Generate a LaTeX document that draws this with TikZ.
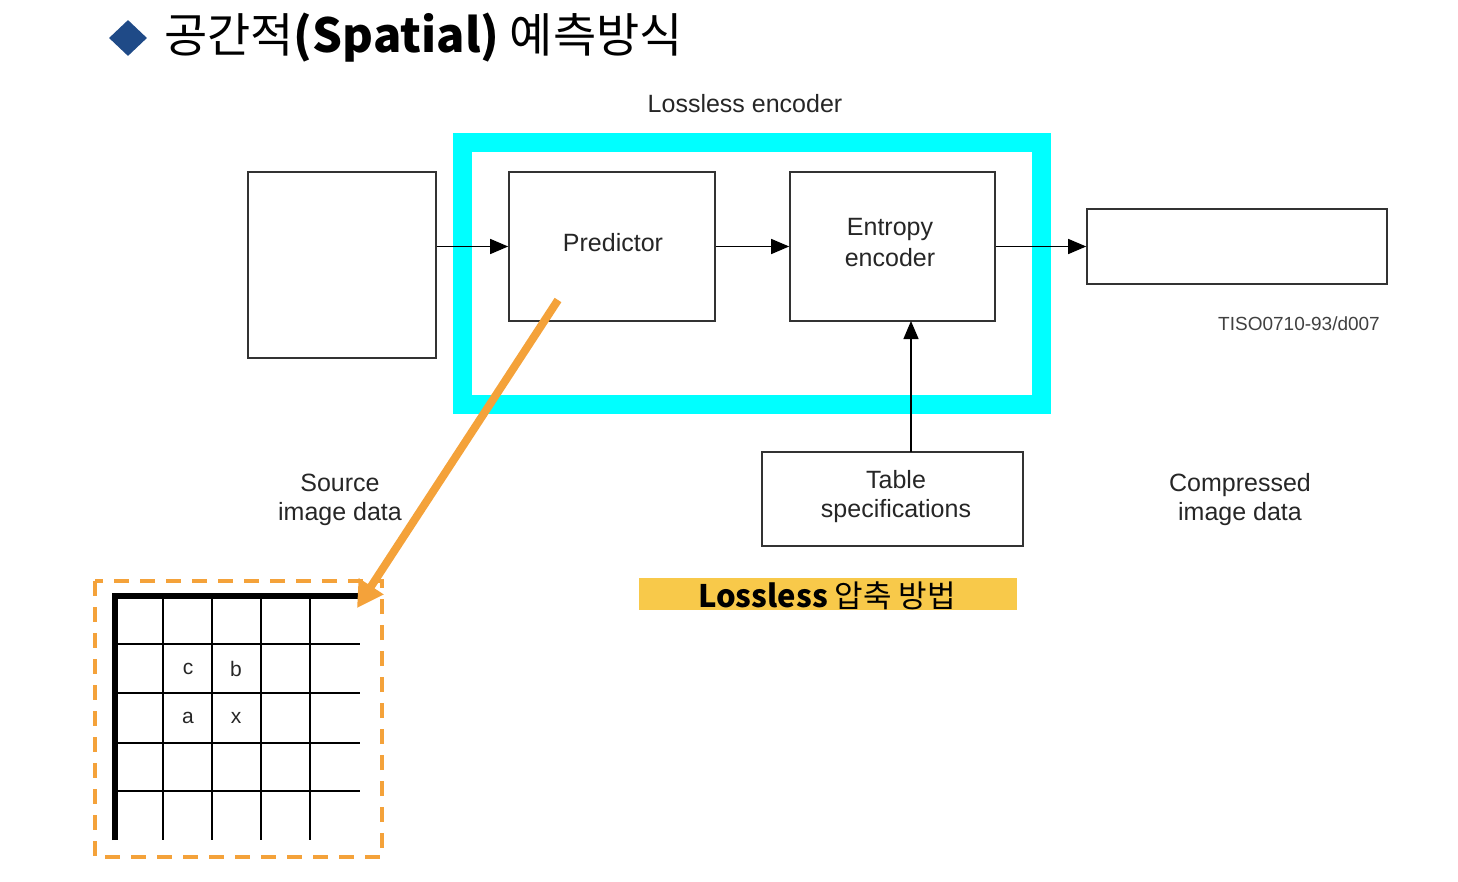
\documentclass[tikz,border=0pt]{standalone}
\usepackage{fontspec}
\setmainfont{Liberation Sans}
\newfontfamily\kr{Noto Sans CJK KR}
\usetikzlibrary{arrows.meta,shapes.geometric}
\definecolor{cyanc}{HTML}{00FFFF}
\definecolor{orng}{HTML}{F4A23A}
\definecolor{yel}{HTML}{F8C94A}
\definecolor{dblue}{HTML}{1F4A87}
\tikzset{
  blk/.style={draw=black!80, line width=1.6pt, fill=white},
  lbl/.style={font=\fontsize{25}{27}\selectfont, text=black!85, align=center},
  conn/.style={line width=1.4pt, -{Triangle[length=18pt,width=15pt]}},
  gridl/.style={line width=1.3pt, black},
  cell/.style={font=\fontsize{21}{23}\selectfont, text=black!85}
}
\begin{document}
\begin{tikzpicture}[x=1pt,y=-1pt]
\useasboundingbox (0,0) rectangle (1458,882);
% title
\node[diamond, fill=dblue, minimum width=38pt, minimum height=36pt, inner sep=0pt] (dia) at (128,38) {};
\node[anchor=west, inner sep=0pt, font=\kr\fontsize{47}{50}\selectfont] (title) at (164,38) {공간적{\bfseries(Spatial)} 예측방식};
% encoder frame
\draw[cyanc, line width=19pt] (462.5,142.5) rectangle (1041.5,404);
\node[lbl] (enclbl) at (745,104) {Lossless encoder};
% boxes
\node[blk, minimum width=188pt, minimum height=186pt, inner sep=0pt] (src) at (342,265) {};
\node[blk, minimum width=206pt, minimum height=149pt, inner sep=0pt, lbl] (pred) at (612,246.5) {};
\node[lbl] (predt) at (613,243) {Predictor};
\node[blk, minimum width=205pt, minimum height=149pt, inner sep=0pt] (ent) at (892.5,246.5) {};
\node[lbl, font=\fontsize{25}{31}\selectfont] (entt) at (890,243) {Entropy\\encoder};
\node[blk, minimum width=300pt, minimum height=75pt, inner sep=0pt] (out) at (1237,246.5) {};
\node[blk, minimum width=261pt, minimum height=94pt, inner sep=0pt] (tab) at (892.5,499) {};
\node[lbl, font=\fontsize{25}{29}\selectfont] (tabt) at (896,497) {Table\\specifications};
% connectors
\draw[conn] (src.east |- pred.west) -- (pred.west);
\draw[conn] (pred.east) -- (ent.west);
\draw[conn] (ent.east) -- (out.west);
\coordinate (tabtop) at (911,452);
\coordinate (enttop) at (911,321);
\draw[conn] (tabtop) -- (enttop);
% labels
\node[lbl, font=\fontsize{25}{29}\selectfont] (srcl) at (340,500) {Source\\image data};
\node[lbl, font=\fontsize{25}{29}\selectfont] (cmpl) at (1240,500) {Compressed\\image data};
\node[font=\fontsize{19}{21}\selectfont, text=black!75] (tiso) at (1299,324) {TISO0710-93/d007};
% yellow label
\node[fill=yel, minimum width=378pt, minimum height=32pt, inner sep=0pt] (ybox) at (828,594) {};
\node[font=\kr\fontsize{31}{33}\selectfont] (yt) at (827,596) {{\bfseries Lossless} 압축 방법};
% grid
\draw[orng, line width=4pt, dash pattern=on 15pt off 11pt] (95,581) rectangle (382,857);
\foreach \x in {163,212,261,310} \draw[gridl] (\x,596) -- (\x,840);
\foreach \y in {644,693,743,791} \draw[gridl] (115,\y) -- (360,\y);
\draw[line width=6pt, black] (115,840) -- (115,596) -- (360,596);
\node[cell] (cc) at (188,669) {c};
\node[cell] (cb) at (236,669) {b};
\node[cell] (ca) at (188,718) {a};
\node[cell] (cx) at (236,718) {x};
\coordinate (gridc) at (357,608);
\coordinate (predp) at (558,300);
\draw[orng, line width=8pt, -{Triangle[length=26pt,width=28pt]}] (predp) -- (gridc);
\end{tikzpicture}
\end{document}
